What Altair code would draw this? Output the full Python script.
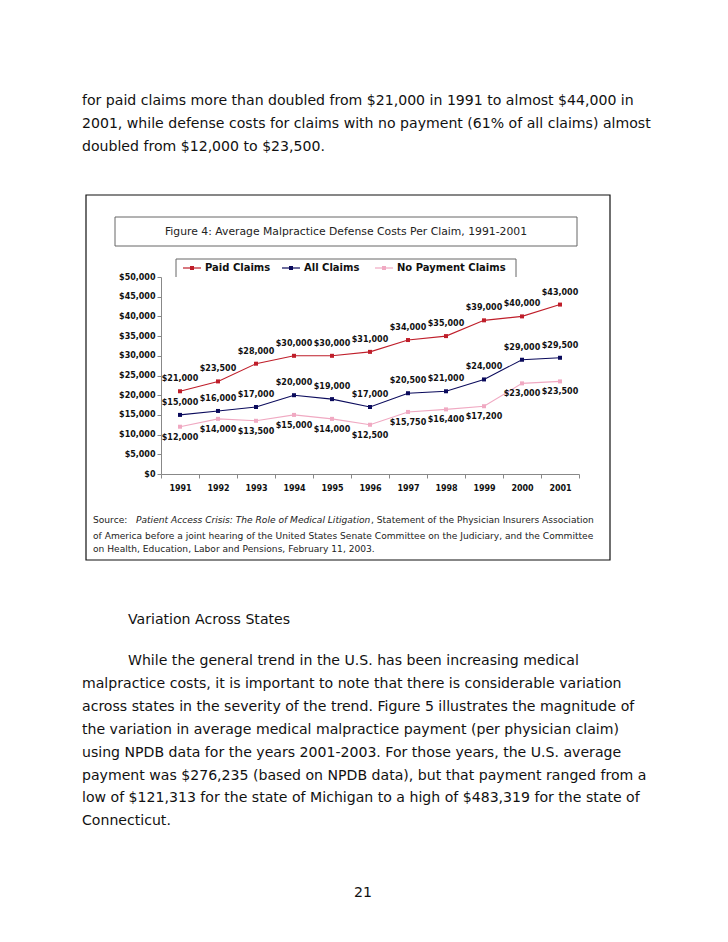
import altair as alt
import pandas as pd

# ---------------- data ----------------
years = [str(y) for y in range(1991, 2002)]
paid_claims = [21000, 23500, 28000, 30000, 30000, 31000, 34000, 35000, 39000, 40000, 43000]
all_claims = [15000, 16000, 17000, 20000, 19000, 17000, 20500, 21000, 24000, 29000, 29500]
no_payment_claims = [12000, 14000, 13500, 15000, 14000, 12500, 15750, 16400, 17200, 23000, 23500]
series_names = ["Paid Claims", "All Claims", "No Payment Claims"]
series_colors = ["#BF1E2A", "#0B0B5C", "#F0A9C2"]
y_ticks = list(range(0, 50001, 5000))

figure_title = "Figure 4: Average Malpractice Defense Costs Per Claim, 1991-2001"
intro_lines = [
    "for paid claims more than doubled from $21,000 in 1991 to almost $44,000 in",
    "2001, while defense costs for claims with no payment (61% of all claims) almost",
    "doubled from $12,000 to $23,500.",
]
source_head = "Source:"
source_italic = "Patient Access Crisis: The Role of Medical Litigation"
source_rest = ", Statement of the Physician Insurers Association"
source_lines = [
    "of America before a joint hearing of the United States Senate Committee on the Judiciary, and the Committee",
    "on Health, Education, Labor and Pensions, February 11, 2003.",
]
heading = "Variation Across States"
para_lines = [
    "While the general trend in the U.S. has been increasing medical",
    "malpractice costs, it is important to note that there is considerable variation",
    "across states in the severity of the trend.  Figure 5 illustrates the magnitude of",
    "the variation in average medical malpractice payment (per physician claim)",
    "using NPDB data for the years 2001-2003.  For those years, the U.S. average",
    "payment was $276,235 (based on NPDB data), but that payment ranged from a",
    "low of $121,313 for the state of Michigan to a high of $483,319 for the state of",
    "Connecticut.",
]
page_number = "21"

rows = []
for name, vals in zip(series_names, [paid_claims, all_claims, no_payment_claims]):
    for yr, v in zip(years, vals):
        rows.append({"year": yr, "series": name, "value": v})
df = pd.DataFrame(rows)

# ---------------- geometry (page pixels) ----------------
PX0, PY0 = 161, 277      # plot origin on the page
W, H = 418, 197          # plot area
PAGE_W, PAGE_H = 712, 926
FONT = "DejaVu Sans"
BODY_SIZE = 14.1
SRC_SIZE = 9.1
blank = alt.Data(values=[{"a": 1}])


def txt(s, x, y, size, align="left", weight="normal", style="normal", color="#111111"):
    return alt.Chart(blank).mark_text(
        text=s, align=align, baseline="middle", font=FONT, fontSize=size,
        fontWeight=weight, fontStyle=style, color=color,
    ).encode(x=alt.value(x - PX0), y=alt.value(y - PY0))


def box(x1, y1, x2, y2, stroke, sw=1.0, fill="white"):
    return alt.Chart(blank).mark_rect(fill=fill, stroke=stroke, strokeWidth=sw).encode(
        x=alt.value(x1 - PX0), x2=alt.value(x2 - PX0), y=alt.value(y1 - PY0), y2=alt.value(y2 - PY0)
    )


def rule(x1, y1, x2, y2, color, sw=1.0):
    return alt.Chart(blank).mark_rule(color=color, strokeWidth=sw).encode(
        x=alt.value(x1 - PX0), x2=alt.value(x2 - PX0), y=alt.value(y1 - PY0), y2=alt.value(y2 - PY0)
    )


layers = []
# outer frame, title box, legend box
layers.append(box(86, 195, 610, 560, "#111111", 1.2))
layers.append(box(115, 217, 577, 246, "#666666", 1.0))
layers.append(rule(176, 259, 516, 259, "#666666"))
layers.append(rule(176, 259, 176, 277, "#666666"))
layers.append(rule(516, 259, 516, 277, "#666666"))
layers.append(txt(figure_title, 346, 231.5, 10.8, align="center", color="#222222"))

# legend
leg_x = [183, 282, 375]
for name, col, lx in zip(series_names, series_colors, leg_x):
    layers.append(rule(lx, 268, lx + 18, 268, col, 1.2))
    layers.append(
        alt.Chart(blank).mark_square(size=16, color=col, opacity=1).encode(
            x=alt.value(lx + 9 - PX0), y=alt.value(268 - PY0)
        )
    )
    layers.append(txt(name, lx + 22, 268, 10, weight="bold", color="#111111"))

# ---------------- data chart ----------------
x_enc = alt.X(
    "year:O", title=None, bandPosition=0.5,
    scale=alt.Scale(type="band", paddingInner=0, paddingOuter=0),
    axis=alt.Axis(
        tickBand="extent", labelAngle=0, labelFont=FONT, labelFontWeight="bold",
        labelFontSize=8, labelColor="#111111", domainColor="#888888", tickColor="#888888",
        tickSize=4, labelPadding=6, grid=False, zindex=1,
    ),
)
y_enc = alt.Y(
    "value:Q", title=None,
    scale=alt.Scale(domain=[0, 50000], nice=False),
    axis=alt.Axis(
        values=y_ticks, format="$,d", labelFont=FONT, labelFontWeight="bold", labelFontSize=8,
        labelColor="#111111", domainColor="#888888", tickColor="#888888", tickSize=4,
        labelPadding=2, grid=False, zindex=1,
    ),
)
color_enc = alt.Color("series:N", scale=alt.Scale(domain=series_names, range=series_colors), legend=None)

base = alt.Chart(df)
lines = base.mark_line(strokeWidth=1.1).encode(x=x_enc, y=y_enc, color=color_enc, detail="series:N")
points = base.mark_square(size=16, opacity=1).encode(x=x_enc, y=y_enc, color=color_enc)
labels_above = base.transform_filter(
    alt.FieldOneOfPredicate(field="series", oneOf=series_names[:2])
).mark_text(font=FONT, fontSize=8, fontWeight="bold", color="#111111", dy=-12).encode(
    x=x_enc, y=y_enc, text=alt.Text("value:Q", format="$,d")
)
labels_below = base.transform_filter(
    alt.FieldEqualPredicate(field="series", equal=series_names[2])
).mark_text(font=FONT, fontSize=8, fontWeight="bold", color="#111111", dy=11).encode(
    x=x_enc, y=y_enc, text=alt.Text("value:Q", format="$,d")
)
layers += [lines, points, labels_above, labels_below]

# source text
layers.append(txt(source_head, 93, 520, SRC_SIZE, color="#222222"))
layers.append(txt(source_italic, 136, 520, SRC_SIZE, style="italic", color="#222222"))
layers.append(txt(source_rest, 371, 520, SRC_SIZE, color="#222222"))
for i, s in enumerate(source_lines):
    layers.append(txt(s, 93, 536 + 12.5 * i, SRC_SIZE, color="#222222"))

# body text
for i, s in enumerate(intro_lines):
    layers.append(txt(s, 82, 101 + 23 * i, BODY_SIZE))
layers.append(txt(heading, 128, 620, BODY_SIZE))
for i, s in enumerate(para_lines):
    layers.append(txt(s, 128 if i == 0 else 82, 661 + 22.9 * i, BODY_SIZE))
layers.append(txt(page_number, 363, 893, BODY_SIZE, align="center"))

chart = alt.layer(*layers).properties(
    width=W, height=H,
    autosize=alt.AutoSizeParams(type="none"),
    padding={"left": PX0 - 8, "top": PY0 - 8, "right": PAGE_W - (PX0 - 8) - W, "bottom": PAGE_H - (PY0 - 8) - H},
    background="white",
).configure_view(stroke=None)

chart.save("out.html", embed_options={"renderer": "svg", "actions": False})
